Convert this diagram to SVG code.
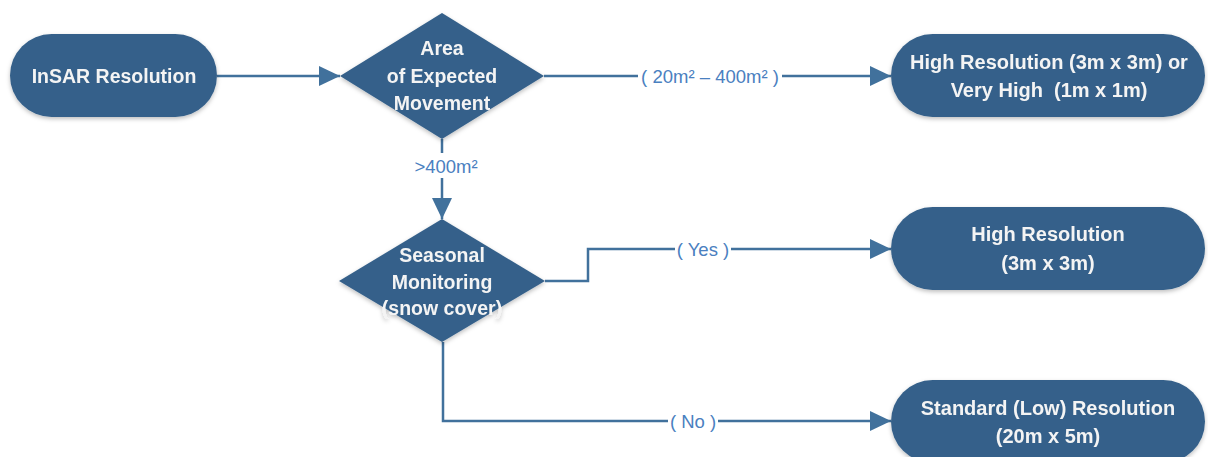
<svg xmlns="http://www.w3.org/2000/svg" width="1208" height="457" viewBox="0 0 1208 457">
  <style>
    .node { fill: #36618a; }
    .ntext { fill: #f4f4f4; font-family: "Liberation Sans", Arial, sans-serif; font-weight: bold; font-size: 19.5px; text-anchor: middle; dominant-baseline: central; white-space: pre; }
    .wide { font-size: 20px; }
    .conn { fill: none; stroke: #41719c; stroke-width: 2.5; }
    .label { fill: #4a80c0; font-family: "Liberation Sans", Arial, sans-serif; font-size: 18.5px; text-anchor: middle; dominant-baseline: central; }
  </style>
  <defs>
    <marker id="arrow" markerUnits="userSpaceOnUse" markerWidth="22" markerHeight="20" refX="21" refY="10" orient="auto">
      <path d="M0,0 L21,10 L0,20 Z" fill="#41719c"/>
    </marker>
    <filter id="shadow" x="-10%" y="-10%" width="120%" height="130%">
      <feDropShadow dx="0" dy="2" stdDeviation="2" flood-color="#000" flood-opacity="0.25"/>
    </filter>
  </defs>
  <rect width="1208" height="457" fill="#ffffff"/>

  <g id="connectors">
    <line class="conn" x1="217" y1="76" x2="340" y2="76" marker-end="url(#arrow)"/>
    <line class="conn" x1="544" y1="76" x2="638" y2="76"/>
    <line class="conn" x1="782" y1="76" x2="891" y2="76" marker-end="url(#arrow)"/>
    <text class="label" x="710" y="76">( 20m² – 400m² )</text>
    <line class="conn" x1="442" y1="139" x2="442" y2="153"/>
    <line class="conn" x1="442" y1="178" x2="442" y2="219" marker-end="url(#arrow)"/>
    <text class="label" x="446" y="166">&gt;400m²</text>
    <polyline class="conn" points="545,281 588,281 588,249 675,249"/>
    <line class="conn" x1="731" y1="249" x2="891" y2="249" marker-end="url(#arrow)"/>
    <text class="label" x="703" y="249">( Yes )</text>
    <polyline class="conn" points="443,342 443,421 668,421"/>
    <line class="conn" x1="718" y1="421" x2="891" y2="421" marker-end="url(#arrow)"/>
    <text class="label" x="693" y="421">( No )</text>
  </g>

  <g id="insar" filter="url(#shadow)">
    <rect class="node" x="10" y="34" width="207" height="83" rx="41.5"/>
    <text class="ntext" x="114" y="76">InSAR Resolution</text>
  </g>

  <g id="area" filter="url(#shadow)">
    <polygon class="node" points="442,13 544,76 442,139 340,76"/>
    <text class="ntext" x="442" y="48">Area</text>
    <text class="ntext" x="442" y="76">of Expected</text>
    <text class="ntext" x="442" y="103">Movement</text>
  </g>

  <g id="veryhigh" filter="url(#shadow)">
    <rect class="node" x="891" y="34" width="314" height="83" rx="41.5"/>
    <text class="ntext wide" x="1049" y="62">High Resolution (3m x 3m) or</text>
    <text class="ntext wide" x="1049" y="90">Very High  (1m x 1m)</text>
  </g>

  <g id="seasonal" filter="url(#shadow)">
    <polygon class="node" points="442,219 545,281 442,342 339,281"/>
    <text class="ntext" x="442" y="255">Seasonal</text>
    <text class="ntext" x="442" y="282">Monitoring</text>
    <text class="ntext" x="442" y="308">(snow cover)</text>
  </g>

  <g id="high" filter="url(#shadow)">
    <rect class="node" x="891" y="207" width="314" height="83" rx="41.5"/>
    <text class="ntext wide" x="1048" y="234">High Resolution</text>
    <text class="ntext wide" x="1048" y="263">(3m x 3m)</text>
  </g>

  <g id="standard" filter="url(#shadow)">
    <rect class="node" x="891" y="380" width="314" height="83" rx="41.5"/>
    <text class="ntext wide" x="1048" y="408">Standard (Low) Resolution</text>
    <text class="ntext wide" x="1048" y="436">(20m x 5m)</text>
  </g>
</svg>
